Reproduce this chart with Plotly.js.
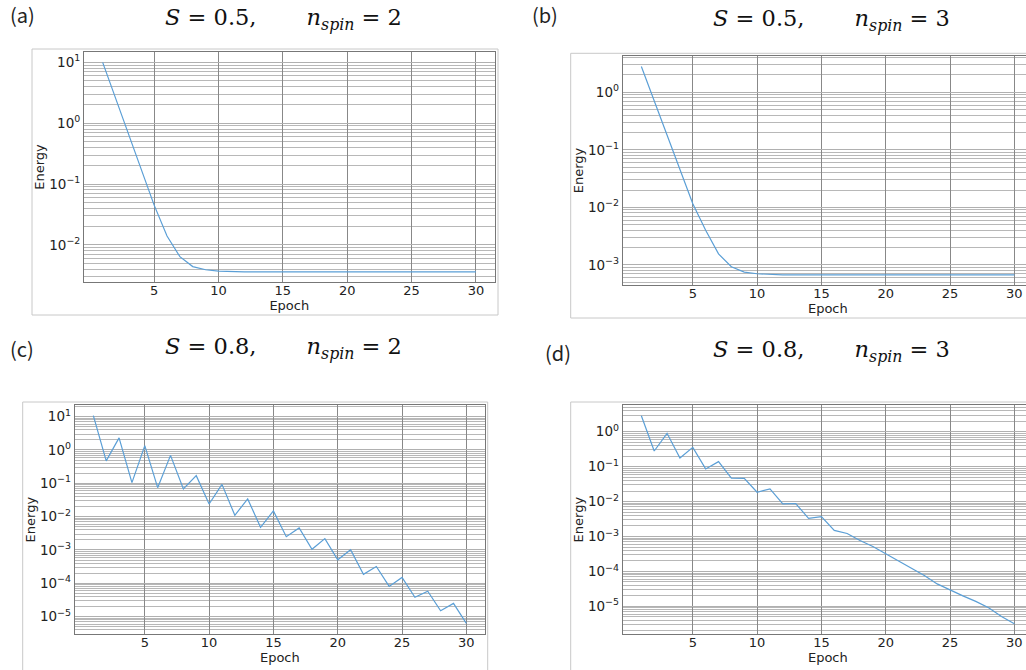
<!DOCTYPE html>
<html><head><meta charset="utf-8">
<script src="https://cdn.plot.ly/plotly-3.0.1.min.js"></script>
<style>html,body{margin:0;padding:0;overflow:hidden;background:#fff}#chart{width:1040px;height:670px}</style>
</head><body><div id="chart"></div>
<script>
// ---- data ----
const epochs = [1,2,3,4,5,6,7,8,9,10,11,12,13,14,15,16,17,18,19,20,21,22,23,24,25,26,27,28,29,30];
const energyA = [10, 2.6, 0.66, 0.17, 0.045, 0.014, 0.0064, 0.0044, 0.0039, 0.0037, 0.00363, 0.0036, 0.0036, 0.0036, 0.0036, 0.0036, 0.0036, 0.0036, 0.0036, 0.0036, 0.0036, 0.0036, 0.0036, 0.0036, 0.0036, 0.0036, 0.0036, 0.0036, 0.0036, 0.0036];
const energyB = [2.8, 0.71, 0.18, 0.046, 0.0115, 0.0040, 0.00155, 0.00093, 0.00075, 0.00070, 0.00068, 0.00067, 0.00067, 0.00067, 0.00067, 0.00067, 0.00067, 0.00067, 0.00067, 0.00067, 0.00067, 0.00067, 0.00067, 0.00067, 0.00067, 0.00067, 0.00067, 0.00067, 0.00067, 0.00067];
const energyC = [10.7, 0.47, 2.3, 0.105, 1.35, 0.074, 0.69, 0.068, 0.17, 0.024, 0.093, 0.011, 0.034, 0.0048, 0.0148, 0.0025, 0.0046, 0.00105, 0.0022, 0.00051, 0.00102, 0.000186, 0.00032, 0.000081, 0.00015, 0.000038, 0.000058, 0.000015, 0.000025, 0.0000063];
const energyD = [2.86, 0.28, 0.9, 0.177, 0.356, 0.086, 0.139, 0.047, 0.046, 0.0185, 0.023, 0.0086, 0.0088, 0.0033, 0.0037, 0.0015, 0.00122, 0.00077, 0.00052, 0.00032, 0.000197, 0.000122, 0.000077, 0.000044, 0.000029, 0.00002, 0.0000139, 0.0000092, 0.0000051, 0.0000032];

const panelLabels = ['(a)', '(b)', '(c)', '(d)'];
const sValues = ['0.5', '0.5', '0.8', '0.8'];
const nSpinValues = ['2', '3', '2', '3'];
const xTickVals = [5, 10, 15, 20, 25, 30];
const xTickText = ['5', '10', '15', '20', '25', '30'];
const decadesA = [1, 0, -1, -2];
const decadesB = [0, -1, -2, -3];
const decadesC = [1, 0, -1, -2, -3, -4, -5];
const decadesD = [0, -1, -2, -3, -4, -5];

// ---- geometry (pixels) ----
const W = 1040, H = 670;
const px = x => x / W;
const py = y => 1 - y / H;

const panels = [
  {y: energyA, dec: decadesA, box: [84, 52, 494.6, 282], yr: [-2.61, 1.17], frame: [32, 49, 498, 315],
   lab: [22, 15], ttl: [283, 19]},
  {y: energyB, dec: decadesB, box: [622.7, 56, 1033, 285], yr: [-3.35, 0.63], frame: [570.7, 53.3, 1045, 318],
   lab: [545, 15], ttl: [831, 20]},
  {y: energyC, dec: decadesC, box: [74.7, 405.3, 485, 634], yr: [-5.52, 1.34], frame: [22.7, 402, 487.7, 690],
   lab: [22, 348], ttl: [283, 348]},
  {y: energyD, dec: decadesD, box: [622.7, 405.3, 1033, 634], yr: [-5.79, 0.755], frame: [570.7, 402, 1045, 690],
   lab: [558, 352], ttl: [831, 351]}
];

function supText(p) {
  return '10<sup>' + (p < 0 ? '\u2212' + Math.abs(p) : String(p)) + '</sup>';
}
function minorVals(yr) {
  const vals = [];
  const lo = Math.floor(yr[0]), hi = Math.ceil(yr[1]);
  for (let e = lo; e <= hi; e++) {
    for (let k = 2; k <= 9; k++) {
      const v = k * Math.pow(10, e);
      const lv = Math.log10(v);
      if (lv >= yr[0] && lv <= yr[1]) vals.push(v);
    }
  }
  return vals;
}

const data = [];
const layout = {
  width: W, height: H,
  margin: {l: 0, r: 0, t: 0, b: 0},
  paper_bgcolor: '#ffffff', plot_bgcolor: '#ffffff',
  showlegend: false,
  font: {family: 'DejaVu Sans, sans-serif', size: 13, color: '#222'},
  annotations: [], shapes: []
};

panels.forEach((p, i) => {
  const n = i + 1;
  const xa = n === 1 ? 'x' : 'x' + n;
  const ya = n === 1 ? 'y' : 'y' + n;
  data.push({
    type: 'scatter', mode: 'lines', x: epochs, y: p.y,
    xaxis: xa, yaxis: ya,
    line: {color: '#5b9fd6', width: 1.2},
    hoverinfo: 'x+y'
  });
  layout['xaxis' + (n === 1 ? '' : n)] = {
    domain: [px(p.box[0]), px(p.box[2])],
    anchor: ya, range: [-0.45, 31.45],
    tickmode: 'array', tickvals: xTickVals, ticktext: xTickText,
    showgrid: true, gridcolor: '#888888', gridwidth: 1,
    zeroline: false, showline: true, mirror: true, linecolor: '#777', linewidth: 1,
    ticks: '', ticklen: 0, automargin: false, ticklabelstandoff: -4,
    tickfont: {family: 'DejaVu Sans, sans-serif', size: 13, color: '#222'},
    title: {text: 'Epoch', standoff: 1, font: {family: 'DejaVu Sans, sans-serif', size: 13, color: '#222'}}
  };
  layout['yaxis' + (n === 1 ? '' : n)] = {
    domain: [py(p.box[3]), py(p.box[1])],
    anchor: xa, type: 'log', range: p.yr,
    tickmode: 'array', tickvals: p.dec.map(e => Math.pow(10, e)), ticktext: p.dec.map(supText),
    showgrid: true, gridcolor: '#b0b0b0', gridwidth: 1,
    minor: {tickmode: 'array', tickvals: minorVals(p.yr), showgrid: true, gridcolor: '#b8b8b8', gridwidth: 1, ticks: ''},
    zeroline: false, showline: true, mirror: true, linecolor: '#777', linewidth: 1,
    ticks: '', ticklen: 0, automargin: false,
    tickfont: {family: 'DejaVu Sans, sans-serif', size: 13.5, color: '#222'},
    title: {text: 'Energy', standoff: 1, font: {family: 'DejaVu Sans, sans-serif', size: 13, color: '#222'}}
  };
  layout.shapes.push({
    type: 'rect', xref: 'paper', yref: 'paper',
    x0: px(p.frame[0]), x1: px(p.frame[2]), y0: py(p.frame[3]), y1: py(p.frame[1]),
    line: {color: '#c8c8c8', width: 1}, fillcolor: 'rgba(0,0,0,0)', layer: 'below'
  });
  layout.annotations.push({
    xref: 'paper', yref: 'paper', x: px(p.lab[0]), y: py(p.lab[1]),
    xanchor: 'center', yanchor: 'middle', showarrow: false,
    text: panelLabels[i],
    font: {family: 'Noto Sans CJK JP, Noto Sans, sans-serif', size: 20, color: '#222'}
  });
  layout.annotations.push({
    xref: 'paper', yref: 'paper', x: px(p.ttl[0]), y: py(p.ttl[1]),
    xanchor: 'center', yanchor: 'middle', showarrow: false,
    text: '<i>S</i> = ' + sValues[i] + ',\u00a0\u00a0\u00a0\u00a0\u00a0\u00a0\u00a0<i>n</i><sub><i>spin</i></sub> = ' + nSpinValues[i],
    font: {family: 'DejaVu Serif, Liberation Serif, serif', size: 22.5, color: '#111'}
  });
});

Plotly.newPlot('chart', data, layout, {displayModeBar: false, staticPlot: true});
</script>
</body></html>
